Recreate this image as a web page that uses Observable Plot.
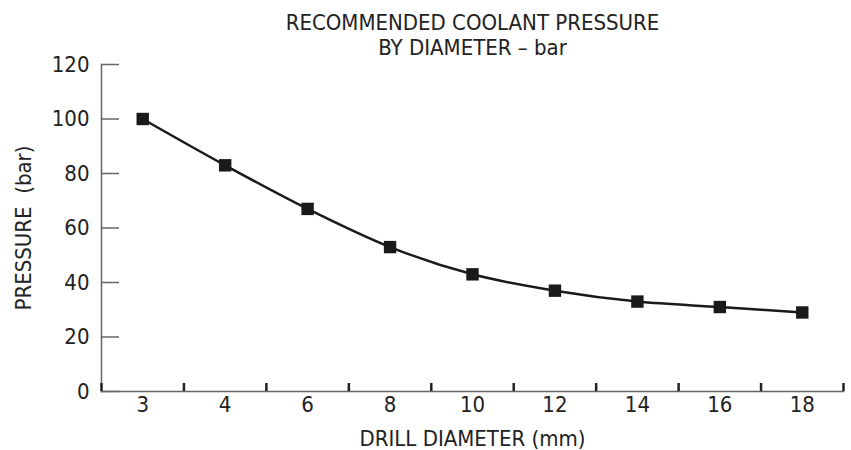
<!DOCTYPE html>
<html>
<head>
<meta charset="utf-8">
<script src="https://cdn.jsdelivr.net/npm/d3@7"></script>
<script src="https://cdn.jsdelivr.net/npm/@observablehq/plot@0.6"></script>
<style>
  html, body { margin: 0; padding: 0; background: #fff; }
  svg text { white-space: pre; }
</style>
</head>
<body>
<div id="chart"></div>
<script>
const titleLines = ["RECOMMENDED COOLANT PRESSURE", "BY DIAMETER \u2013 bar"];
const diameters = ["3", "4", "6", "8", "10", "12", "14", "16", "18"];
const pressures = [100, 83, 67, 53, 43, 37, 33, 31, 29];
const yTicks = [0, 20, 40, 60, 80, 100, 120];
const xLabel = "DRILL DIAMETER (mm)";
const yLabel = "PRESSURE\u00a0\u00a0(bar)";

const data = diameters.map((d, i) => ({idx: i + 0.5, d, p: pressures[i]}));
const font = "'Liberation Sans Narrow', 'DejaVu Sans Condensed', 'Roboto Condensed', sans-serif";

const chart = Plot.plot({
  width: 851,
  height: 450,
  marginLeft: 101,
  marginRight: 8,
  marginTop: 64,
  marginBottom: 59,
  style: {fontFamily: font, fontSize: "22px", color: "#222", background: "#fff"},
  x: {type: "linear", domain: [0, diameters.length], axis: null},
  y: {domain: [0, 120], axis: null},
  marks: [
    Plot.frame({anchor: "left", stroke: "#666", strokeWidth: 1.5}),
    Plot.frame({anchor: "bottom", stroke: "#666", strokeWidth: 1.5}),
    Plot.axisY(yTicks, {tickSize: 0, tickPadding: 12, fontSize: 22, fill: "#222", label: null}),
    Plot.axisY(yTicks, {tickSize: -18, text: null, stroke: "#666", strokeWidth: 1.5, label: null}),
    Plot.axisX(data.map(r => r.idx), {tickSize: 0, tickPadding: 5, fontSize: 22, fill: "#222",
      tickFormat: v => diameters[Math.floor(v)], label: null}),
    Plot.axisX(d3.range(diameters.length + 1), {tickSize: -8, text: null, stroke: "#222", strokeWidth: 2.5, label: null}),
    Plot.line(data, {x: "idx", y: "p", stroke: "#1a1a1a", strokeWidth: 2.5, curve: "monotone-x"}),
    Plot.dot(data, {x: "idx", y: "p", symbol: "square", r: 7, fill: "#1a1a1a", stroke: "none"}),
    Plot.text([titleLines[0]], {frameAnchor: "top", dy: -42, lineAnchor: "middle", fontSize: 22, fill: "#222"}),
    Plot.text([titleLines[1]], {frameAnchor: "top", dy: -17, lineAnchor: "middle", fontSize: 22, fill: "#222"}),
    Plot.text([xLabel], {frameAnchor: "bottom", dy: 47, lineAnchor: "middle", fontSize: 22, fill: "#222"}),
    Plot.text([yLabel], {frameAnchor: "left", dx: -78, rotate: -90, textAnchor: "middle", lineAnchor: "middle", fontSize: 22, fill: "#222"})
  ]
});
document.getElementById("chart").appendChild(chart);
</script>
</body>
</html>
